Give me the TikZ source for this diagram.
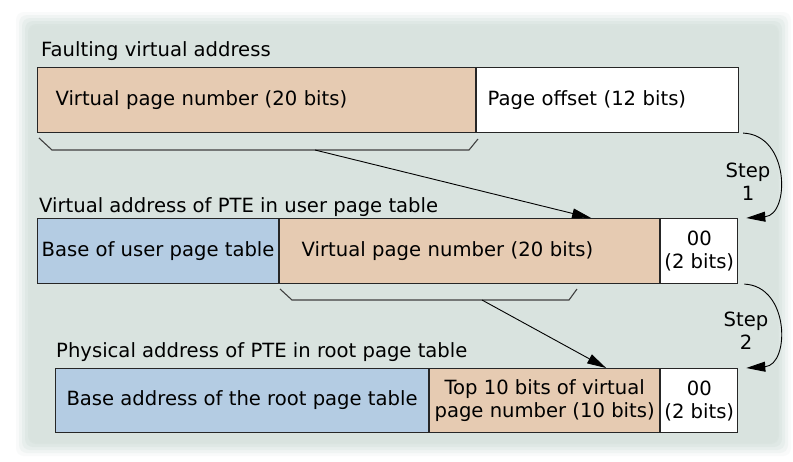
\documentclass[tikz,border=0pt]{standalone}
\usepackage{fontspec}
\setmainfont{DejaVu Sans}
\usetikzlibrary{arrows.meta,calc}
\definecolor{bgc}{RGB}{217,227,223}
\definecolor{tanc}{RGB}{230,203,178}
\definecolor{bluec}{RGB}{180,204,227}
\begin{document}
\begin{tikzpicture}[x=1pt,y=-1pt,
  font=\fontsize{19.6}{23}\selectfont,
  field/.style={draw=black!85, line width=1.1pt, minimum height=65pt, inner sep=0pt, anchor=north west, align=center},
  title/.style={anchor=base west, inner sep=0pt},
  brk/.style={draw=black!75, line width=1.1pt},
  ptr/.style={draw=black, line width=0.9pt, -{Triangle[length=19pt,width=10pt]}},
  steplbl/.style={align=center, inner sep=0pt}
]
\useasboundingbox (0,0) rectangle (793,461);
% background
\fill[white] (0,0) rectangle (793,461);
\foreach \d/\o in {14/0.15,11/0.25,8/0.35,5/0.5,2/0.7}
  \fill[bgc, opacity=\o, rounded corners=8pt] (30-\d,26-\d) rectangle (777+\d,442+\d);
\fill[bgc, rounded corners=6pt] (30,26) rectangle (777,442);

% titles
\node[title] (t1) at (41,56) {Faulting virtual address};
\node[title] (t2) at (39,212) {Virtual address of PTE in user page table};
\node[title] (t3) at (56,357) {Physical address of PTE in root page table};

% row 1
\node[field, fill=tanc, minimum width=438pt, text width=402pt, inner xsep=18pt, align=left] (vpn1) at (37,67) {Virtual page number (20 bits)};
\node[field, fill=white, minimum width=262pt, text width=240pt, inner xsep=11pt, align=left] (off1) at (vpn1.north east) {Page offset (12 bits)};

% row 2
\node[field, fill=bluec, minimum width=241pt] (base2) at (37,218) {Base of user page table};
\node[field, fill=tanc, minimum width=380pt, text width=336pt, inner xsep=22pt, align=left] (vpn2) at (base2.north east) {Virtual page number (20 bits)};
\node[field, fill=white, minimum width=77pt] (zero2) at (vpn2.north east) {00\\(2 bits)};

% row 3
\node[field, fill=bluec, minimum width=373pt, minimum height=64pt] (base3) at (55,368) {Base address of the root page table};
\node[field, fill=tanc, minimum width=230pt, minimum height=64pt] (top3) at (base3.north east) {Top 10 bits of virtual\\page number (10 bits)};
\node[field, fill=white, minimum width=77pt, minimum height=64pt] (zero3) at (top3.north east) {00\\(2 bits)};

% brackets
\coordinate (b1a) at (39,138);
\coordinate (b1b) at (52,150);
\coordinate (b1c) at (469,150);
\coordinate (b1d) at (478,139);
\coordinate (b1m) at (315,150);
\draw[brk] (b1a) -- (b1b) -- (b1c) -- (b1d);
\coordinate (b2a) at (280,289);
\coordinate (b2b) at (292,300);
\coordinate (b2c) at (569,300);
\coordinate (b2d) at (577,289);
\coordinate (b2m) at (482,300);
\draw[brk] (b2a) -- (b2b) -- (b2c) -- (b2d);

% pointers
\draw[ptr] (b1m) -- ($(vpn2.north west)+(312,0)$);
\draw[ptr] (b2m) -- ($(top3.north west)+(177,0)$);

% steps
\coordinate (s1a) at ($(off1.south east)+(4,0)$);
\coordinate (s1b) at ($(zero2.north east)+(8,0)$);
\draw[ptr] (s1a) .. controls (790,135) and (790,215) .. (s1b);
\node[steplbl] (s1) at (748,182) {Step\\1};
\coordinate (s2a) at ($(zero2.south east)+(6,0)$);
\coordinate (s2b) at ($(zero3.north east)+(8,0)$);
\draw[ptr] (s2a) .. controls (790,286) and (790,365) .. (s2b);
\node[steplbl] (s2) at (746,331) {Step\\2};
\end{tikzpicture}
\end{document}
